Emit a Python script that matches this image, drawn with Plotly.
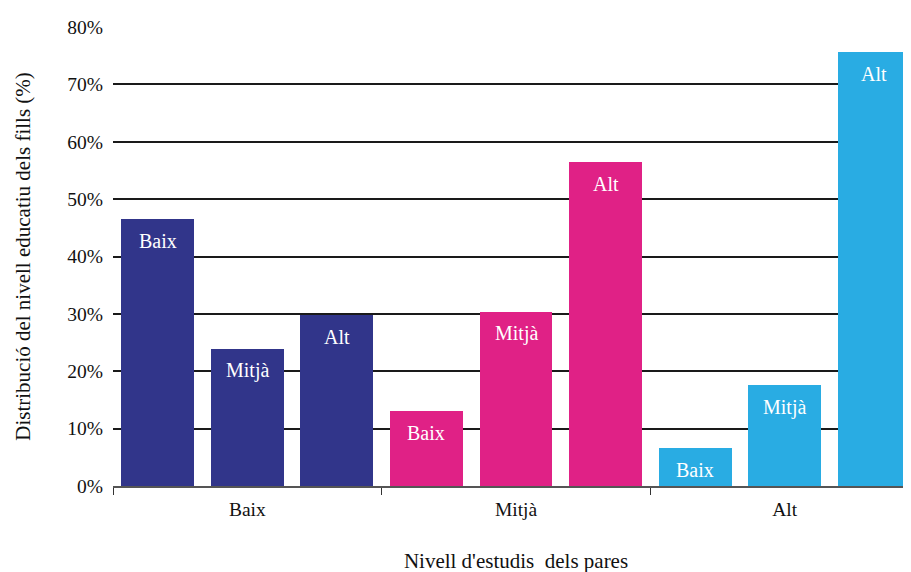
import plotly.graph_objects as go

parent_levels = ["Baix", "Mitjà", "Alt"]
child_levels = ["Baix", "Mitjà", "Alt"]
# distribution of children's education (%) for each parent level
values = {
    "Baix": [46.5, 23.9, 29.8],
    "Mitjà": [13.1, 30.4, 56.4],
    "Alt": [6.7, 17.6, 75.7],
}
colors = {"Baix": "#31358A", "Mitjà": "#E02186", "Alt": "#29ACE3"}

y_ticks = [0, 10, 20, 30, 40, 50, 60, 70, 80]
y_ticktext = [f"{v}%" for v in y_ticks]

FONT = "'Liberation Serif', 'DejaVu Serif', serif"

fig = go.Figure()
annotations = []
for gi, p in enumerate(parent_levels):
    xs = [gi * 3 + ci for ci in range(len(child_levels))]
    ys = values[p]
    fig.add_trace(go.Bar(
        x=xs, y=ys, width=0.815,
        marker=dict(color=colors[p], line=dict(width=0)),
        name=p, showlegend=False, hoverinfo="y",
    ))
    for x, y, c in zip(xs, ys, child_levels):
        annotations.append(dict(
            x=x, y=y, xref="x", yref="y", text=c, showarrow=False,
            yanchor="middle", yshift=-22,
            font=dict(family=FONT, size=20, color="white"),
        ))

fig.update_layout(
    width=911, height=572,
    margin=dict(l=105, r=0, t=19, b=94),
    paper_bgcolor="white", plot_bgcolor="white",
    font=dict(family=FONT, size=19.5, color="#111"),
    bargap=0,
    annotations=annotations,
    xaxis=dict(
        range=[-0.5, 8.5],
        tickmode="array", tickvals=[1, 4, 7], ticktext=parent_levels,
        ticks="", showgrid=False, zeroline=False,
        showline=True, linecolor="#555", linewidth=1.5,
        ticklabelstandoff=5,
        tickfont=dict(family=FONT, size=19.5, color="#111"),
        minor=dict(tickmode="array", tickvals=[-0.5, 2.5, 5.5, 8.5],
                   ticks="outside", ticklen=7, tickwidth=1.3,
                   tickcolor="#333", showgrid=False),
        title=dict(text="Nivell d'estudis  dels pares", standoff=34,
                   font=dict(family=FONT, size=21, color="#111")),
        fixedrange=True,
    ),
    yaxis=dict(
        range=[0, 80],
        tickmode="array", tickvals=y_ticks, ticktext=y_ticktext,
        ticks="", showgrid=True, gridcolor="#1a1a1a", gridwidth=1.5,
        zeroline=False, showline=False,
        ticklabelstandoff=9,
        tickfont=dict(family=FONT, size=19.5, color="#111"),
        title=dict(text="Distribució del nivell educatiu dels fills (%)",
                   standoff=30,
                   font=dict(family=FONT, size=21, color="#111")),
        fixedrange=True,
    ),
)

fig.write_html("out.html")
